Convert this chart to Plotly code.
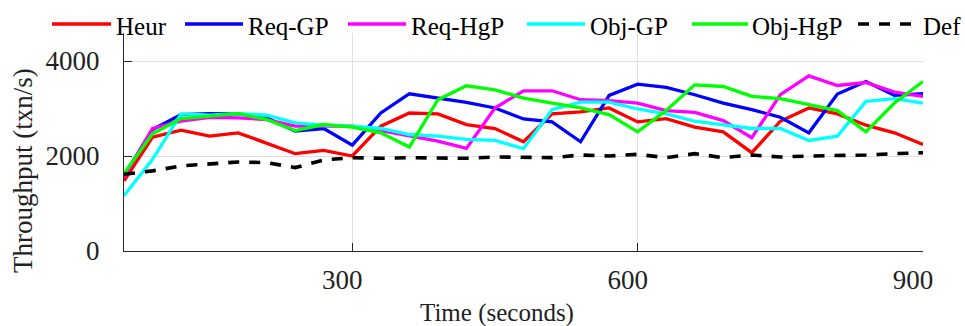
import plotly.graph_objects as go

# Sample times (seconds)
time_s = [60, 90, 120, 150, 180, 210, 240, 270, 300, 330, 360, 390, 420, 450, 480,
          510, 540, 570, 600, 630, 660, 690, 720, 750, 780, 810, 840, 870, 900]

# Throughput per policy (txn/s)
heur = [1478, 2398, 2544, 2419, 2488, 2265, 2049, 2119, 2000, 2628, 2906, 2886, 2663, 2579, 2300,
        2886, 2927, 3011, 2718, 2788, 2607, 2509, 2070, 2732, 3011, 2886, 2649, 2488, 2244]
req_gp = [1580, 2558, 2871, 2893, 2886, 2802, 2523, 2579, 2230, 2906, 3311, 3220, 3129, 3011, 2781,
          2718, 2300, 3276, 3513, 3443, 3290, 3115, 2976, 2816, 2488, 3304, 3569, 3276, 3311]
req_hgp = [1561, 2579, 2732, 2816, 2802, 2767, 2628, 2628, 2628, 2537, 2432, 2314, 2160, 3011, 3373,
           3373, 3185, 3164, 3115, 2955, 2920, 2746, 2384, 3290, 3687, 3485, 3548, 3346, 3255]
obj_gp = [1164, 1930, 2886, 2858, 2893, 2858, 2697, 2649, 2628, 2579, 2453, 2418, 2349, 2328, 2154,
          2976, 3136, 3136, 2990, 2886, 2732, 2649, 2579, 2579, 2328, 2418, 3150, 3206, 3115]
obj_hgp = [1631, 2467, 2788, 2837, 2893, 2767, 2537, 2663, 2607, 2488, 2188, 3185, 3478, 3394, 3220,
           3116, 3011, 2872, 2509, 2960, 3499, 3464, 3255, 3206, 3081, 2955, 2509, 3116, 3569]
default = [1617, 1687, 1791, 1826, 1875, 1861, 1756, 1917, 1965, 1952, 1965, 1958, 1952, 1980, 1965,
           1965, 2021, 2000, 2035, 1965, 2049, 1965, 2021, 1980, 2000, 2007, 2021, 2049, 2070]

series_names = ["Heur", "Req-GP", "Req-HgP", "Obj-GP", "Obj-HgP", "Def"]
series_values = [heur, req_gp, req_hgp, obj_gp, obj_hgp, default]
series_colors = ["#FF0000", "#0000FF", "#FF00FF", "#00FFFF", "#00FF00", "#000000"]
series_dash = ["solid", "solid", "solid", "solid", "solid", "11px,10px"]

x_ticks = [300, 600, 900]
y_ticks = [0, 2000, 4000]

FONT = "Liberation Serif"
W, H = 965, 326
ML, MR, MT, MB = 124, 42, 33, 75
PW, PH = W - ML - MR, H - MT - MB


def px_x(px):
    return (px - ML) / PW


def px_y(py):
    return (H - MB - py) / PH


fig = go.Figure()
for name, vals, col, dash in zip(series_names, series_values, series_colors, series_dash):
    fig.add_trace(go.Scatter(
        x=time_s, y=vals, name=name, mode="lines",
        line=dict(color=col, width=3.6 if name == "Def" else 3.3, dash=dash),
        showlegend=False,
    ))

# Legend row drawn along the top edge
legend_lines = [(52, 111), (185, 243), (348, 406), (527, 585), (692, 748), (858, 920)]
legend_text_x = [114, 246, 409, 588, 750, 921]
shapes = []
annotations = []
for (x0, x1), tx, name, col, dash in zip(legend_lines, legend_text_x, series_names,
                                         series_colors, series_dash):
    shapes.append(dict(type="line", xref="paper", yref="paper",
                       x0=px_x(x0), x1=px_x(x1), y0=px_y(24), y1=px_y(24),
                       line=dict(color=col, width=3.6, dash=dash)))
    annotations.append(dict(text=name, xref="paper", yref="paper",
                            x=px_x(tx), y=px_y(26), xanchor="left", yanchor="middle",
                            showarrow=False, font=dict(family=FONT, size=25, color="#000")))

annotations.append(dict(text="Time (seconds)", xref="paper", yref="paper",
                        x=px_x(497), y=px_y(313), xanchor="center", yanchor="middle",
                        showarrow=False, font=dict(family=FONT, size=25, color="#222")))
annotations.append(dict(text="Throughput (txn/s)", xref="paper", yref="paper",
                        x=px_x(23), y=px_y(171), xanchor="center", yanchor="middle",
                        textangle=-90, showarrow=False,
                        font=dict(family=FONT, size=27, color="#222")))

fig.update_layout(
    width=W, height=H,
    margin=dict(l=ML, r=MR, t=MT, b=MB),
    paper_bgcolor="white", plot_bgcolor="white",
    font=dict(family=FONT, size=26, color="#222"),
    shapes=shapes, annotations=annotations,
    showlegend=False,
)
fig.update_xaxes(
    range=[60, 900], tickvals=x_ticks, ticks="inside", ticklen=8, tickcolor="#262626",
    showgrid=True, gridcolor="#e0e0e0", gridwidth=1,
    showline=True, linecolor="#262626", linewidth=1.2, zeroline=False,
    ticklabelshift=-10, ticklabelstandoff=4,
    tickfont=dict(family=FONT, size=27, color="#222"),
)
fig.update_yaxes(
    range=[0, 4590], tickvals=y_ticks, ticks="inside", ticklen=8, tickcolor="#262626",
    showgrid=True, gridcolor="#e0e0e0", gridwidth=1,
    showline=True, linecolor="#262626", linewidth=1.2, zeroline=False,
    ticklabelstandoff=18,
    tickfont=dict(family=FONT, size=27, color="#222"),
)

fig.write_html("out.html")
